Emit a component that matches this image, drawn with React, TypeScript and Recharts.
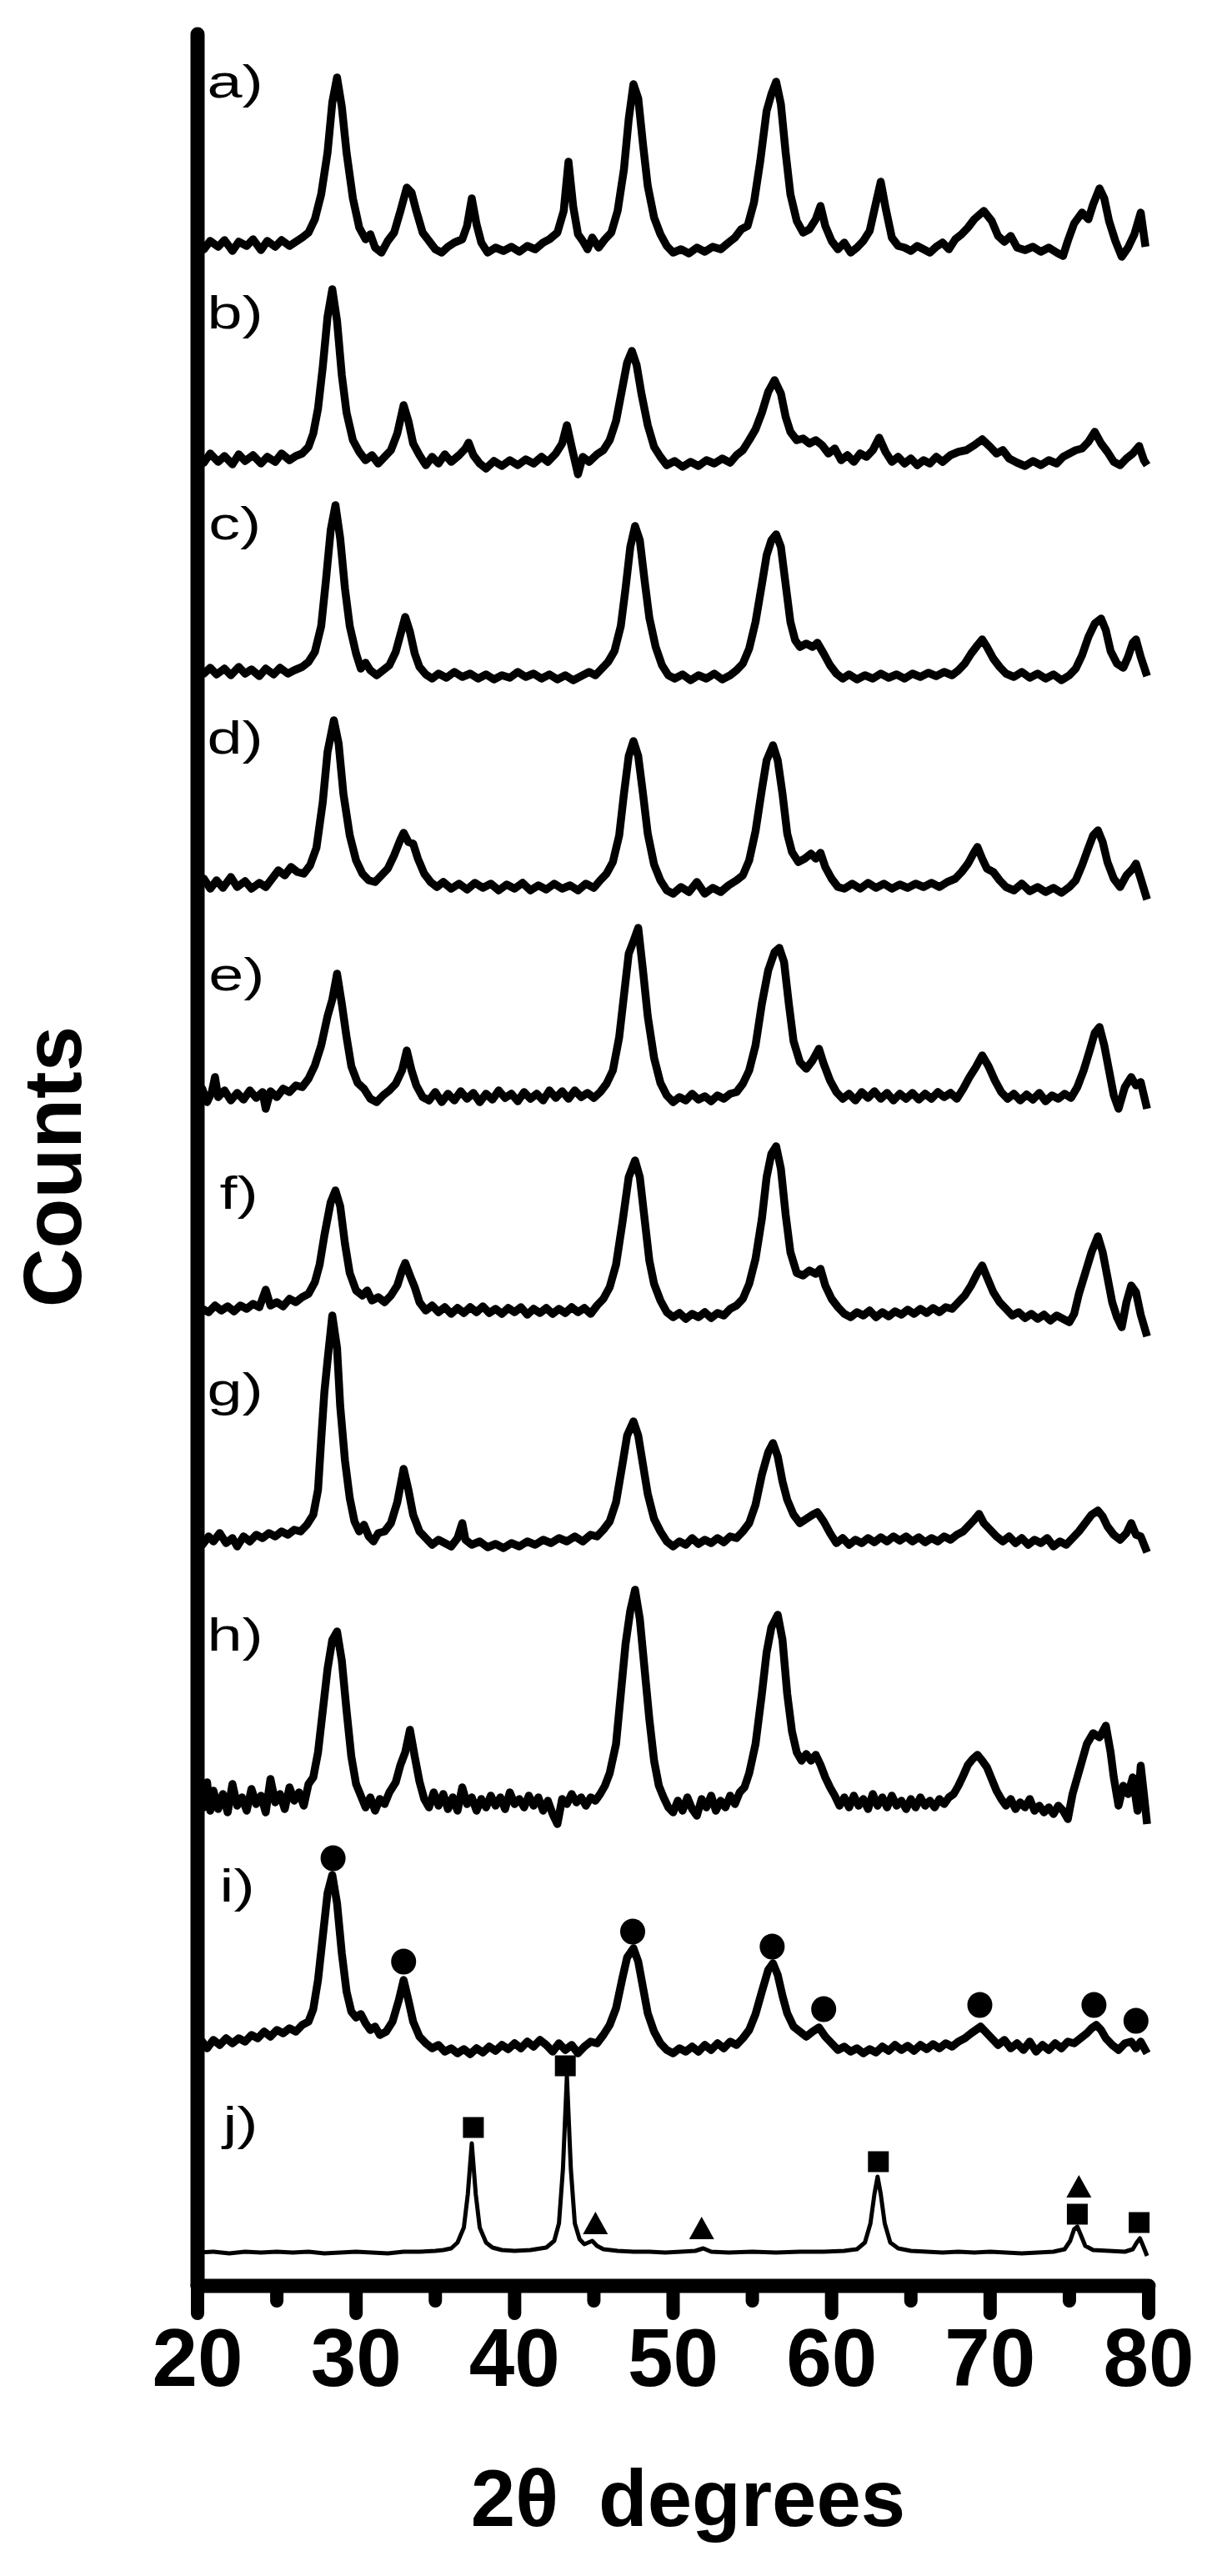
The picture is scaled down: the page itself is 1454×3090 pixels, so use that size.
import { ComposedChart, Line, Scatter, XAxis, YAxis } from 'recharts'

const FONT = '"Liberation Sans", Arial, Helvetica, sans-serif'

// ─── Data ────────────────────────────────────────────────────────────────────

// 2θ ticks every 5°, labelled on the tens
const X_TICKS = [20, 25, 30, 35, 40, 45, 50, 55, 60, 65, 70, 75, 80]

// baseline of each pattern in stacked "counts" (a on top, j at the bottom)
const OFFSETS = [2449, 2192, 1936, 1680, 1428, 1170, 895, 580, 287, 40]

const LABELS = ['a)', 'b)', 'c)', 'd)', 'e)', 'f)', 'g)', 'h)', 'i)', 'j)']
const LABEL_X = [20.6, 20.6, 20.7, 20.6, 20.7, 21.4, 20.6, 20.6, 21.4, 21.6]
const LABEL_H = [176, 156, 159, 158, 126, 122, 161, 182, 174, 136]

// each trace: [2θ, counts above its own baseline]
const TRACE_A: [number, number][] = [
  [20.0, 2], [20.4, -6], [20.8, 4], [21.3, -3], [21.7, 5], [22.2, -8], [22.6, 3], [23.1, -2], [23.5, 6], [24.0, -7],
  [24.4, 4], [24.9, -3], [25.3, 5], [25.8, -2], [26.2, 3], [26.6, 8], [27.0, 14], [27.4, 30], [27.8, 60], [28.2, 110],
  [28.5, 170], [28.8, 200], [29.1, 165], [29.4, 110], [29.8, 55], [30.2, 20], [30.6, 6], [30.9, 12], [31.2, -4], [31.6, -10],
  [32.0, 4], [32.4, 14], [32.8, 40], [33.2, 68], [33.5, 62], [33.8, 40], [34.2, 14], [34.6, 4], [35.0, -6], [35.4, -10],
  [35.8, -3], [36.2, 2], [36.7, 6], [37.0, 22], [37.3, 55], [37.6, 24], [37.9, 2], [38.3, -10], [38.8, -4], [39.3, -8],
  [39.8, -3], [40.3, -9], [40.8, -2], [41.3, -6], [41.8, 2], [42.2, 6], [42.7, 14], [43.1, 40], [43.4, 99], [43.7, 45],
  [44.0, 12], [44.3, 4], [44.6, -6], [44.9, 8], [45.3, -4], [45.7, 6], [46.1, 14], [46.5, 40], [46.9, 90], [47.2, 150],
  [47.5, 192], [47.8, 175], [48.1, 120], [48.4, 70], [48.8, 32], [49.2, 12], [49.6, -2], [50.0, -10], [50.5, -6], [51.0, -11],
  [51.5, -4], [52.0, -9], [52.5, -3], [53.0, -6], [53.5, 2], [53.9, 8], [54.3, 18], [54.7, 22], [55.1, 50], [55.5, 100],
  [55.9, 160], [56.2, 180], [56.5, 195], [56.8, 168], [57.1, 110], [57.4, 60], [57.8, 28], [58.2, 14], [58.6, 18], [59.0, 30],
  [59.3, 46], [59.6, 22], [60.0, 4], [60.4, -6], [60.8, 2], [61.2, -10], [61.6, -4], [62.0, 4], [62.4, 16], [62.8, 50],
  [63.1, 75], [63.4, 44], [63.8, 8], [64.2, -2], [64.6, -4], [65.0, -8], [65.4, -2], [65.8, -6], [66.2, -10], [66.6, -3],
  [67.0, 2], [67.4, -6], [67.8, 6], [68.2, 12], [68.6, 20], [69.0, 30], [69.6, 40], [70.1, 28], [70.5, 10], [70.9, 3],
  [71.3, 10], [71.7, -4], [72.2, -7], [72.7, -3], [73.2, -9], [73.7, -4], [74.2, -10], [74.6, -14], [74.9, 4], [75.3, 25],
  [75.8, 38], [76.2, 30], [76.5, 48], [76.9, 67], [77.2, 55], [77.5, 28], [77.9, 4], [78.3, -15], [78.7, -4], [79.1, 12],
  [79.5, 38], [79.8, -3],
]

const TRACE_B: [number, number][] = [
  [20.0, 0], [20.4, -5], [20.8, 6], [21.3, -4], [21.7, 3], [22.2, -7], [22.6, 5], [23.0, -3], [23.5, 4], [24.0, -6],
  [24.4, 2], [24.9, -4], [25.3, 6], [25.8, -2], [26.2, 3], [26.6, 6], [27.0, 14], [27.3, 30], [27.6, 60], [27.9, 110],
  [28.2, 170], [28.5, 203], [28.8, 165], [29.1, 100], [29.4, 55], [29.8, 22], [30.2, 8], [30.6, -2], [31.0, 4], [31.4, -6],
  [31.8, 2], [32.2, 10], [32.6, 30], [33.0, 64], [33.3, 45], [33.6, 18], [34.0, 4], [34.4, -8], [34.8, 2], [35.2, -6],
  [35.6, 5], [36.0, -4], [36.5, 4], [36.9, 12], [37.1, 19], [37.4, 4], [37.8, -6], [38.2, -12], [38.7, -3], [39.2, -9],
  [39.7, -2], [40.2, -8], [40.7, -1], [41.2, -6], [41.7, 2], [42.1, -4], [42.6, 6], [43.0, 18], [43.3, 40], [43.6, 14],
  [44.0, -19], [44.3, 2], [44.7, -4], [45.2, 5], [45.6, 10], [46.0, 22], [46.4, 45], [46.8, 85], [47.1, 115], [47.4, 129],
  [47.7, 112], [48.0, 78], [48.4, 40], [48.8, 14], [49.2, 2], [49.6, -8], [50.1, -3], [50.6, -10], [51.1, -4], [51.6, -9],
  [52.1, -2], [52.6, -6], [53.1, 0], [53.6, -5], [54.0, 4], [54.4, 10], [54.8, 22], [55.2, 35], [55.6, 55], [56.0, 80],
  [56.4, 94], [56.8, 78], [57.1, 50], [57.4, 32], [57.8, 22], [58.2, 24], [58.6, 18], [59.0, 22], [59.4, 16], [59.8, 6],
  [60.2, 12], [60.6, -2], [61.0, 4], [61.4, -4], [61.8, 6], [62.2, 2], [62.6, 10], [63.0, 25], [63.4, 8], [63.8, -4],
  [64.2, 2], [64.6, -6], [65.0, 0], [65.4, -8], [65.8, -2], [66.2, -6], [66.6, 2], [67.0, -4], [67.5, 4], [68.0, 8],
  [68.5, 10], [69.0, 16], [69.5, 23], [70.0, 14], [70.4, 6], [70.8, 10], [71.2, 0], [71.7, -5], [72.2, -9], [72.7, -3],
  [73.2, -8], [73.7, -2], [74.2, -6], [74.6, 2], [75.0, 6], [75.4, 10], [75.8, 12], [76.2, 20], [76.6, 32], [77.0, 18],
  [77.4, 8], [77.8, -4], [78.2, -8], [78.6, 0], [79.0, 6], [79.4, 15], [79.7, -2], [79.9, -8],
]

const TRACE_C: [number, number][] = [
  [20.0, 6], [20.4, -2], [20.8, 5], [21.2, -3], [21.7, 4], [22.1, -4], [22.6, 6], [23.0, -2], [23.4, 3], [23.9, -5],
  [24.3, 4], [24.8, -3], [25.2, 5], [25.7, -2], [26.1, 2], [26.6, 6], [27.0, 12], [27.4, 24], [27.8, 55], [28.1, 110],
  [28.4, 170], [28.7, 200], [29.0, 160], [29.3, 100], [29.6, 55], [30.0, 22], [30.3, 4], [30.6, 11], [30.9, 2], [31.3, -4],
  [31.7, 2], [32.1, 8], [32.5, 24], [32.8, 45], [33.1, 66], [33.4, 48], [33.7, 22], [34.0, 6], [34.4, -3], [34.8, -8],
  [35.2, -2], [35.7, -7], [36.2, 0], [36.7, -6], [37.2, -2], [37.7, -8], [38.2, -3], [38.7, -9], [39.2, -4], [39.7, -7],
  [40.2, 0], [40.7, -6], [41.2, -2], [41.7, -8], [42.2, -3], [42.7, -9], [43.2, -4], [43.7, -10], [44.2, -5], [44.7, 0],
  [45.1, -4], [45.5, 4], [45.9, 12], [46.3, 25], [46.7, 55], [47.0, 100], [47.3, 150], [47.6, 175], [47.9, 158], [48.2, 110],
  [48.5, 65], [48.9, 30], [49.3, 8], [49.7, -4], [50.1, -8], [50.6, -3], [51.1, -10], [51.6, -4], [52.1, -8], [52.6, -2],
  [53.1, -9], [53.6, -4], [54.0, 2], [54.4, 10], [54.8, 28], [55.2, 60], [55.6, 105], [55.9, 140], [56.2, 158], [56.5, 165],
  [56.8, 150], [57.1, 105], [57.4, 60], [57.7, 38], [58.0, 30], [58.4, 34], [58.8, 30], [59.1, 35], [59.5, 22], [59.9, 8],
  [60.3, -2], [60.7, -8], [61.1, -3], [61.6, -9], [62.1, -4], [62.6, -8], [63.1, -2], [63.6, -7], [64.1, -3], [64.6, -8],
  [65.1, -2], [65.6, -6], [66.1, -1], [66.6, -5], [67.1, 0], [67.6, -4], [68.0, 2], [68.4, 10], [68.8, 22], [69.2, 32],
  [69.5, 39], [69.8, 30], [70.2, 16], [70.6, 6], [71.0, -2], [71.5, -6], [72.0, 0], [72.5, -7], [73.0, -2], [73.5, -8],
  [74.0, -3], [74.5, -10], [75.0, -4], [75.4, 4], [75.8, 20], [76.2, 42], [76.6, 58], [77.0, 64], [77.3, 50], [77.6, 25],
  [78.0, 10], [78.4, 5], [78.7, 18], [79.0, 35], [79.2, 39], [79.5, 18], [79.9, -5],
]

const TRACE_D: [number, number][] = [
  [20.0, -2], [20.4, 8], [20.8, -4], [21.2, 6], [21.6, -3], [22.1, 10], [22.5, -2], [23.0, 5], [23.4, -4], [23.9, 3],
  [24.3, -2], [24.7, 8], [25.1, 18], [25.5, 12], [25.9, 22], [26.3, 16], [26.7, 14], [27.1, 24], [27.5, 45], [27.9, 100],
  [28.2, 160], [28.6, 198], [28.9, 170], [29.2, 110], [29.6, 60], [30.0, 30], [30.4, 14], [30.8, 6], [31.2, 4], [31.6, 12],
  [32.0, 20], [32.4, 36], [32.8, 55], [33.0, 63], [33.3, 52], [33.6, 50], [33.9, 32], [34.3, 14], [34.7, 4], [35.1, -2],
  [35.5, 4], [36.0, -4], [36.5, 2], [37.0, -5], [37.5, 3], [38.0, -3], [38.5, 2], [39.0, -6], [39.5, 1], [40.0, -4],
  [40.5, 3], [41.0, -6], [41.5, 0], [42.0, -5], [42.5, 2], [43.0, -4], [43.5, 0], [44.0, -6], [44.5, 2], [45.0, -3],
  [45.4, 6], [45.8, 14], [46.2, 28], [46.6, 60], [46.9, 110], [47.2, 155], [47.5, 173], [47.8, 155], [48.1, 110], [48.4, 62],
  [48.8, 25], [49.2, 6], [49.6, -6], [50.0, -10], [50.5, -2], [51.0, -8], [51.5, 4], [52.0, -10], [52.5, -3], [53.0, -8],
  [53.5, 0], [54.0, 6], [54.4, 12], [54.8, 30], [55.2, 65], [55.6, 115], [55.9, 150], [56.3, 168], [56.6, 150], [56.9, 110],
  [57.2, 62], [57.5, 40], [57.9, 28], [58.3, 32], [58.7, 38], [59.0, 32], [59.3, 39], [59.6, 22], [60.0, 8], [60.4, -2],
  [60.8, -4], [61.3, 2], [61.8, -4], [62.3, 3], [62.8, -3], [63.3, 2], [63.8, -4], [64.3, 1], [64.8, -3], [65.3, 2],
  [65.8, -2], [66.3, 3], [66.8, -2], [67.3, 4], [67.8, 8], [68.2, 16], [68.6, 26], [69.0, 40], [69.2, 46], [69.5, 32],
  [69.8, 20], [70.2, 16], [70.6, 6], [71.0, -2], [71.5, -6], [72.0, 2], [72.5, -7], [73.0, -2], [73.5, -8], [74.0, -3],
  [74.5, -9], [75.0, -2], [75.4, 6], [75.8, 24], [76.2, 45], [76.5, 60], [76.8, 66], [77.1, 52], [77.4, 28], [77.8, 8],
  [78.2, -2], [78.6, 12], [79.0, 20], [79.2, 26], [79.5, 8], [79.9, -17],
]

const TRACE_E: [number, number][] = [
  [20.0, -4], [20.3, 8], [20.6, -8], [20.9, 4], [21.1, 22], [21.3, -2], [21.7, 6], [22.1, -6], [22.5, 3], [22.9, -5],
  [23.3, 6], [23.7, -3], [24.1, 4], [24.3, -16], [24.6, 5], [25.0, -2], [25.4, 8], [25.8, 4], [26.2, 12], [26.6, 10],
  [27.0, 20], [27.4, 36], [27.8, 60], [28.2, 95], [28.5, 115], [28.8, 146], [29.1, 110], [29.4, 70], [29.7, 35], [30.1, 15],
  [30.5, 8], [30.9, -4], [31.3, -8], [31.7, 0], [32.1, 6], [32.5, 14], [32.9, 30], [33.2, 54], [33.5, 30], [33.8, 12],
  [34.2, -2], [34.6, -6], [35.0, 4], [35.4, -8], [35.8, 2], [36.2, -6], [36.6, 5], [37.0, -4], [37.4, 3], [37.8, -8],
  [38.2, 2], [38.6, -5], [39.0, 6], [39.4, -3], [39.8, 2], [40.2, -7], [40.6, 4], [41.0, -4], [41.4, 2], [41.8, -6],
  [42.2, 6], [42.6, -3], [43.0, 5], [43.4, -4], [43.8, 6], [44.2, -2], [44.6, 3], [45.0, -3], [45.4, 4], [45.8, 14],
  [46.2, 30], [46.6, 70], [46.9, 120], [47.2, 170], [47.5, 185], [47.8, 201], [48.1, 150], [48.4, 95], [48.8, 45], [49.2, 15],
  [49.6, 0], [50.0, -8], [50.4, -2], [50.8, -6], [51.2, 2], [51.6, -5], [52.0, -1], [52.4, -7], [52.8, 0], [53.2, -4],
  [53.6, 2], [54.0, 4], [54.4, 14], [54.8, 30], [55.2, 60], [55.6, 110], [56.0, 150], [56.4, 172], [56.7, 177], [57.0, 160],
  [57.3, 110], [57.6, 65], [58.0, 40], [58.4, 32], [58.8, 42], [59.2, 56], [59.5, 38], [59.9, 18], [60.3, 4], [60.7, -4],
  [61.1, 2], [61.5, -6], [61.9, 4], [62.3, -3], [62.7, 5], [63.1, -4], [63.5, 3], [63.9, -6], [64.3, 2], [64.7, -4],
  [65.1, 3], [65.5, -5], [65.9, 2], [66.3, -4], [66.7, 4], [67.1, -2], [67.5, 3], [67.9, -4], [68.3, 8], [68.7, 22],
  [69.1, 34], [69.5, 48], [69.9, 35], [70.3, 18], [70.7, 4], [71.1, -4], [71.5, 2], [71.9, -6], [72.3, 1], [72.7, -5],
  [73.1, 3], [73.5, -7], [73.9, 0], [74.3, -4], [74.7, 2], [75.1, -3], [75.5, 10], [75.9, 30], [76.3, 55], [76.6, 75],
  [76.9, 82], [77.2, 60], [77.5, 30], [77.8, 0], [78.1, -16], [78.5, 10], [78.9, 22], [79.2, 12], [79.5, 16], [79.9, -16],
]

const TRACE_F: [number, number][] = [
  [20.0, -8], [20.3, 2], [20.7, -2], [21.1, 6], [21.5, 0], [21.9, 5], [22.3, -1], [22.7, 6], [23.1, 2], [23.5, 8],
  [23.9, 4], [24.3, 25], [24.6, 6], [25.0, 10], [25.4, 5], [25.8, 14], [26.2, 10], [26.6, 16], [27.0, 20], [27.4, 34],
  [27.7, 55], [28.0, 90], [28.4, 130], [28.7, 144], [29.0, 125], [29.3, 80], [29.6, 45], [30.0, 24], [30.4, 18], [30.7, 24],
  [31.0, 12], [31.4, 16], [31.8, 10], [32.2, 18], [32.6, 30], [32.9, 48], [33.1, 57], [33.4, 42], [33.7, 28], [34.0, 10],
  [34.4, 0], [34.8, 6], [35.2, -2], [35.6, 4], [36.0, -4], [36.4, 3], [36.8, -3], [37.2, 4], [37.6, -2], [38.0, 5],
  [38.4, -3], [38.8, 2], [39.2, -4], [39.6, 3], [40.0, -2], [40.4, 4], [40.8, -5], [41.2, 2], [41.6, -3], [42.0, 3],
  [42.4, -4], [42.8, 2], [43.2, -3], [43.6, 4], [44.0, -2], [44.4, 3], [44.8, -4], [45.2, 6], [45.6, 14], [46.0, 28],
  [46.4, 55], [46.8, 105], [47.2, 160], [47.6, 180], [47.9, 160], [48.2, 110], [48.5, 60], [48.8, 32], [49.2, 12], [49.6, -2],
  [50.0, -8], [50.4, -3], [50.8, -10], [51.2, -4], [51.6, -8], [52.0, -2], [52.4, -9], [52.8, -3], [53.2, -6], [53.6, 2],
  [54.0, 6], [54.4, 14], [54.8, 32], [55.2, 62], [55.6, 110], [55.9, 160], [56.2, 188], [56.5, 197], [56.8, 170], [57.1, 115],
  [57.4, 70], [57.8, 45], [58.2, 42], [58.6, 48], [59.0, 44], [59.3, 50], [59.6, 30], [60.0, 14], [60.4, 4], [60.8, -4],
  [61.2, -8], [61.6, -2], [62.0, -6], [62.4, 0], [62.8, -8], [63.2, -2], [63.6, -7], [64.0, -1], [64.4, -5], [64.8, 1],
  [65.2, -4], [65.6, 2], [66.0, -3], [66.4, 3], [66.8, -2], [67.2, 4], [67.6, 2], [68.0, 10], [68.4, 18], [68.8, 30],
  [69.2, 45], [69.5, 54], [69.8, 40], [70.2, 22], [70.6, 10], [71.0, 2], [71.4, -6], [71.8, -2], [72.2, -9], [72.6, -4],
  [73.0, -10], [73.4, -5], [73.8, -12], [74.2, -6], [74.6, -10], [75.0, -14], [75.3, -4], [75.6, 20], [76.0, 45], [76.4, 70],
  [76.8, 89], [77.1, 70], [77.4, 40], [77.7, 10], [78.0, -8], [78.3, -20], [78.6, 10], [78.9, 30], [79.2, 22], [79.5, -5],
  [79.9, -31],
]

const TRACE_G: [number, number][] = [
  [20.0, 2], [20.3, -6], [20.7, 4], [21.0, -2], [21.4, 8], [21.8, -4], [22.2, 2], [22.5, -8], [22.9, 4], [23.3, -2],
  [23.7, 6], [24.1, 2], [24.5, 8], [24.9, 4], [25.3, 10], [25.7, 6], [26.1, 12], [26.5, 10], [26.9, 18], [27.3, 30],
  [27.6, 60], [27.8, 120], [28.0, 177], [28.2, 215], [28.5, 269], [28.8, 230], [29.0, 160], [29.3, 95], [29.6, 50], [29.9, 22],
  [30.2, 10], [30.5, 18], [30.8, 4], [31.1, -2], [31.4, 8], [31.8, 10], [32.2, 20], [32.6, 45], [33.0, 85], [33.3, 60],
  [33.6, 30], [34.0, 10], [34.4, 2], [34.8, -6], [35.2, 0], [35.6, -4], [36.0, -8], [36.4, 2], [36.7, 20], [36.9, 0],
  [37.3, -6], [37.8, -2], [38.3, -9], [38.8, -5], [39.3, -10], [39.8, -4], [40.3, -8], [40.8, -2], [41.3, -6], [41.8, 0],
  [42.3, -4], [42.8, 2], [43.3, -2], [43.8, 4], [44.3, -2], [44.8, 6], [45.2, 4], [45.6, 12], [46.0, 22], [46.4, 45],
  [46.8, 90], [47.1, 125], [47.5, 142], [47.8, 125], [48.1, 90], [48.4, 55], [48.8, 25], [49.2, 10], [49.6, -2], [50.0, -8],
  [50.4, -2], [50.8, -6], [51.2, 2], [51.6, -5], [52.0, 0], [52.4, -4], [52.8, 2], [53.2, -3], [53.6, 4], [54.0, 2],
  [54.4, 10], [54.8, 20], [55.2, 42], [55.6, 78], [56.0, 105], [56.3, 116], [56.6, 100], [56.9, 70], [57.2, 48], [57.6, 30],
  [58.0, 20], [58.4, 25], [58.8, 30], [59.1, 33], [59.5, 22], [59.9, 8], [60.3, -4], [60.7, 2], [61.1, -6], [61.5, 0],
  [61.9, -4], [62.3, 2], [62.7, -3], [63.1, 3], [63.5, -2], [63.9, 4], [64.3, -1], [64.7, 4], [65.1, -2], [65.5, 3],
  [65.9, -3], [66.3, 2], [66.7, -2], [67.1, 4], [67.5, 0], [67.9, 6], [68.3, 10], [68.7, 18], [69.0, 24], [69.3, 31],
  [69.6, 20], [70.0, 12], [70.4, 4], [70.8, -2], [71.2, 4], [71.6, -4], [72.0, 2], [72.4, -6], [72.8, 0], [73.2, -4],
  [73.6, 2], [74.0, -8], [74.4, -2], [74.8, -6], [75.2, 2], [75.6, 10], [76.0, 20], [76.4, 30], [76.8, 35], [77.1, 28],
  [77.4, 16], [77.8, 6], [78.2, 0], [78.6, 8], [78.9, 20], [79.2, 6], [79.5, 4], [79.9, -15],
]

const TRACE_H: [number, number][] = [
  [20.0, -14], [20.2, 8], [20.4, -6], [20.6, 24], [20.8, -10], [21.0, 14], [21.3, -8], [21.6, 10], [21.9, -12], [22.2, 22],
  [22.5, -4], [22.8, 6], [23.1, -10], [23.4, 16], [23.7, -2], [24.0, 8], [24.3, -12], [24.6, 28], [24.9, 0], [25.2, 10],
  [25.5, -8], [25.8, 18], [26.1, 2], [26.4, 12], [26.7, -4], [27.0, 22], [27.3, 30], [27.6, 60], [27.9, 110], [28.2, 160],
  [28.5, 195], [28.8, 205], [29.1, 170], [29.4, 110], [29.7, 55], [30.0, 22], [30.3, 8], [30.6, -6], [30.9, 6], [31.2, -10],
  [31.5, 4], [31.8, -2], [32.1, 12], [32.5, 24], [32.8, 45], [33.1, 60], [33.4, 87], [33.7, 55], [34.0, 25], [34.3, 4],
  [34.6, -6], [34.9, 12], [35.2, -4], [35.5, 10], [35.8, -8], [36.1, 6], [36.4, -10], [36.7, 18], [37.0, -2], [37.3, 6],
  [37.6, -10], [37.9, 4], [38.2, -6], [38.5, 8], [38.8, -4], [39.1, 6], [39.4, -8], [39.7, 12], [40.0, -2], [40.3, 4],
  [40.6, -6], [40.9, 8], [41.2, -4], [41.5, 6], [41.8, -10], [42.1, 2], [42.4, -14], [42.7, -26], [43.0, 4], [43.3, -2],
  [43.6, 10], [43.9, 0], [44.2, 6], [44.5, -4], [44.8, 6], [45.1, 2], [45.4, 10], [45.7, 20], [46.0, 35], [46.4, 70],
  [46.7, 130], [47.0, 190], [47.3, 230], [47.6, 255], [47.9, 220], [48.2, 160], [48.5, 100], [48.8, 50], [49.1, 20], [49.4, 6],
  [49.7, -6], [50.0, -12], [50.3, 2], [50.6, -10], [50.9, 6], [51.2, -8], [51.5, -16], [51.8, 4], [52.1, -6], [52.4, 8],
  [52.7, -10], [53.0, 2], [53.3, -6], [53.6, 8], [53.9, -2], [54.2, 12], [54.5, 18], [54.8, 35], [55.2, 70], [55.6, 130],
  [55.9, 180], [56.2, 210], [56.6, 225], [56.9, 195], [57.2, 130], [57.5, 85], [57.8, 60], [58.1, 50], [58.4, 58], [58.7, 50],
  [59.0, 57], [59.3, 45], [59.6, 30], [59.9, 18], [60.2, 8], [60.5, -4], [60.8, 6], [61.1, -6], [61.4, 8], [61.7, -4],
  [62.0, 4], [62.3, -8], [62.6, 10], [62.9, -4], [63.2, 6], [63.5, -6], [63.8, 8], [64.1, -4], [64.4, 2], [64.7, -8],
  [65.0, 4], [65.3, -6], [65.6, 6], [65.9, -4], [66.2, 2], [66.5, -6], [66.8, 4], [67.1, -2], [67.4, 6], [67.7, 10],
  [68.0, 20], [68.3, 32], [68.6, 45], [68.9, 52], [69.2, 57], [69.5, 50], [69.8, 42], [70.1, 28], [70.4, 14], [70.7, 4],
  [71.0, -4], [71.3, 4], [71.6, -8], [71.9, 0], [72.2, -6], [72.5, 4], [72.8, -10], [73.1, -4], [73.4, -12], [73.7, -6],
  [74.0, -14], [74.3, -4], [74.6, -10], [74.9, -20], [75.2, 10], [75.5, 30], [75.8, 50], [76.1, 70], [76.5, 83], [76.9, 78],
  [77.3, 92], [77.6, 60], [77.8, 30], [78.1, -4], [78.4, 20], [78.7, 10], [79.0, 30], [79.3, -10], [79.5, 44], [79.7, 10],
  [79.9, -26],
]

const TRACE_I: [number, number][] = [
  [20.0, -4], [20.3, 6], [20.6, -2], [21.0, 8], [21.4, 2], [21.8, 10], [22.2, 4], [22.6, 10], [23.0, 6], [23.4, 14],
  [23.8, 10], [24.2, 18], [24.6, 12], [25.0, 20], [25.4, 16], [25.8, 22], [26.2, 18], [26.6, 26], [27.0, 30], [27.3, 45],
  [27.6, 80], [27.9, 132], [28.2, 184], [28.5, 206], [28.8, 172], [29.1, 112], [29.4, 66], [29.7, 42], [30.0, 35], [30.3, 39],
  [30.6, 28], [30.9, 20], [31.2, 24], [31.5, 14], [31.9, 18], [32.3, 30], [32.7, 56], [33.0, 80], [33.3, 56], [33.6, 30],
  [34.0, 12], [34.4, 4], [34.8, -2], [35.2, 2], [35.6, -6], [36.0, -2], [36.4, -8], [36.8, -3], [37.2, -9], [37.6, -2],
  [38.0, -7], [38.4, 0], [38.8, -5], [39.2, 2], [39.6, -3], [40.0, 4], [40.4, -2], [40.8, 6], [41.2, 0], [41.6, 8],
  [42.0, 2], [42.4, -6], [42.8, 4], [43.2, -4], [43.6, 2], [44.0, -8], [44.4, 0], [44.8, 6], [45.2, 4], [45.6, 14],
  [46.0, 26], [46.4, 46], [46.8, 82], [47.1, 107], [47.5, 118], [47.8, 102], [48.1, 71], [48.4, 40], [48.8, 18], [49.2, 4],
  [49.6, -4], [50.0, -8], [50.4, -2], [50.8, -6], [51.2, 0], [51.6, -6], [52.0, 2], [52.4, -4], [52.8, 4], [53.2, -2],
  [53.6, 6], [54.0, 2], [54.4, 10], [54.8, 20], [55.2, 39], [55.6, 66], [56.0, 92], [56.3, 100], [56.6, 86], [56.9, 61],
  [57.2, 40], [57.6, 24], [58.0, 18], [58.4, 12], [58.8, 18], [59.2, 23], [59.6, 12], [60.0, 4], [60.4, -4], [60.8, 0],
  [61.2, -6], [61.6, -2], [62.0, -8], [62.4, -3], [62.8, -7], [63.2, 0], [63.6, -5], [64.0, 2], [64.4, -4], [64.8, 1],
  [65.2, -5], [65.6, 2], [66.0, -3], [66.4, 3], [66.8, -2], [67.2, 4], [67.6, 0], [68.0, 6], [68.4, 10], [68.8, 16],
  [69.1, 20], [69.4, 24], [69.7, 18], [70.1, 10], [70.5, 2], [70.9, 8], [71.3, -2], [71.7, 4], [72.1, -4], [72.5, 6],
  [72.9, -6], [73.3, 2], [73.7, -4], [74.1, 4], [74.5, -2], [74.9, 6], [75.3, 4], [75.7, 10], [76.1, 16], [76.4, 22],
  [76.7, 26], [77.0, 20], [77.3, 10], [77.7, 2], [78.1, -4], [78.5, 4], [78.9, 6], [79.2, -2], [79.5, 6], [79.9, -8],
]

const TRACE_J: [number, number][] = [
  [20.0, 0], [21.0, 1], [22.0, -1], [23.0, 1], [24.0, 0], [25.0, 1], [26.0, 0], [27.0, 1], [28.0, -1], [29.0, 0],
  [30.0, 1], [31.0, 0], [32.0, -1], [33.0, 1], [34.0, 1], [35.0, 2], [35.5, 3], [36.0, 5], [36.4, 12], [36.8, 30],
  [37.05, 70], [37.3, 131], [37.55, 70], [37.8, 30], [38.2, 12], [38.6, 6], [39.2, 3], [40.0, 2], [41.0, 3], [42.0, 6],
  [42.5, 14], [42.8, 35], [43.05, 100], [43.3, 212], [43.55, 100], [43.8, 35], [44.1, 16], [44.4, 10], [44.65, 12], [44.9, 14],
  [45.2, 8], [45.6, 4], [46.5, 2], [47.5, 1], [48.5, 1], [49.5, 0], [50.5, 1], [51.4, 2], [51.9, 5], [52.4, 1],
  [53.5, 0], [55.0, 1], [56.5, 0], [58.0, 1], [59.5, 1], [60.8, 2], [61.6, 4], [62.1, 12], [62.45, 35], [62.7, 70],
  [62.9, 91], [63.1, 70], [63.35, 35], [63.7, 12], [64.2, 5], [65.0, 2], [66.0, 1], [67.0, 0], [68.0, 1], [69.0, 0],
  [70.0, 1], [71.0, 0], [72.0, -1], [73.0, 0], [74.0, 1], [74.7, 4], [75.05, 14], [75.3, 28], [75.5, 31], [75.7, 22],
  [76.0, 8], [76.5, 3], [77.5, 2], [78.5, 1], [79.0, 4], [79.25, 12], [79.45, 17], [79.65, 8], [79.9, -4],
]

const TRACES = [TRACE_A, TRACE_B, TRACE_C, TRACE_D, TRACE_E, TRACE_F, TRACE_G, TRACE_H, TRACE_I, TRACE_J]

// phase markers: ● on pattern i, ■ and ▲ on pattern j (height above that baseline)
const CIRCLE_X = [28.55, 33.0, 47.45, 56.25, 59.5, 69.35, 76.55, 79.2]
const CIRCLE_H = [226, 102, 138, 120, 45, 50, 50, 31]
const SQUARE_X = [37.4, 43.2, 62.95, 75.5, 79.4]
const SQUARE_H = [150, 224, 109, 46, 36]
const TRIANGLE_X = [45.1, 51.8, 75.6]
const TRIANGLE_H = [35, 29, 79]

const I_ROW = 8
const J_ROW = 9

const series = TRACES.map((pts, k) => pts.map(([x, h]) => ({ x, y: OFFSETS[k] + h })))
const labelData = LABELS.map((text, k) => ({ x: LABEL_X[k], y: OFFSETS[k] + LABEL_H[k], text }))
const circles = CIRCLE_X.map((x, k) => ({ x, y: OFFSETS[I_ROW] + CIRCLE_H[k] }))
const squares = SQUARE_X.map((x, k) => ({ x, y: OFFSETS[J_ROW] + SQUARE_H[k] }))
const triangles = TRIANGLE_X.map((x, k) => ({ x, y: OFFSETS[J_ROW] + TRIANGLE_H[k] }))

// ─── Shapes ──────────────────────────────────────────────────────────────────

const CircleMark = ({ cx, cy }: any) => <ellipse cx={cx} cy={cy} rx={15} ry={15.5} fill="#000" />
const SquareMark = ({ cx, cy }: any) => (
  <rect x={cx - 12.5} y={cy - 12.5} width={25} height={25} fill="#000" />
)
const TriangleMark = ({ cx, cy }: any) => (
  <polygon points={`${cx - 15},${cy + 13} ${cx + 15},${cy + 13} ${cx},${cy - 14}`} fill="#000" />
)
const TraceLabel = ({ cx, cy, payload }: any) => (
  <text transform={`translate(${cx},${cy}) scale(1.35,1)`} fontSize={56} fontFamily={FONT} fill="#000">
    {payload.text}
  </text>
)

function XTick({ x, y, payload }: any) {
  const major = payload.value % 10 === 0
  return (
    <g>
      <line x1={x} x2={x} y1={y} y2={y + (major ? 33 : 18)} stroke="#000" strokeWidth={16} strokeLinecap="round" />
      {major && (
        <text x={x} y={y + 120} textAnchor="middle" fontSize={98} fontWeight="bold" fontFamily={FONT} fill="#000">
          {payload.value}
        </text>
      )}
    </g>
  )
}

function XTitle(props: any) {
  const vb = props.viewBox ?? { x: 229, y: 2734, width: 1141, height: 100 }
  return (
    <text x={vb.x + vb.width / 2 + 18} y={vb.y + vb.height + 188} textAnchor="middle"
      fontSize={96} fontWeight="bold" fontFamily={FONT} fill="#000">
      {'2θ\u2002degrees'}
    </text>
  )
}

function YTitle(props: any) {
  const vb = props.viewBox ?? { x: 169, y: 33, width: 60, height: 2701 }
  const cx = vb.x + vb.width - 140
  const cy = vb.y + vb.height / 2 + 8
  return (
    <text x={cx} y={cy} transform={`rotate(-90, ${cx}, ${cy})`} textAnchor="middle"
      fontSize={98} fontWeight="bold" fontFamily={FONT} fill="#000">
      Counts
    </text>
  )
}

// ─── Chart ───────────────────────────────────────────────────────────────────

export default function App() {
  return (
    <ComposedChart width={1446} height={3082} margin={{ top: 33, right: 76, bottom: 248, left: 169 }}>
      <XAxis
        dataKey="x"
        type="number"
        domain={[20, 80]}
        ticks={X_TICKS}
        interval={0}
        tickSize={0}
        tickMargin={0}
        tickLine={false}
        tick={<XTick />}
        height={100}
        axisLine={{ stroke: '#000', strokeWidth: 17, strokeLinecap: 'round' }}
        label={XTitle}
      />
      <YAxis
        dataKey="y"
        type="number"
        domain={[0, 2701]}
        width={60}
        tick={false}
        tickLine={false}
        axisLine={{ stroke: '#000', strokeWidth: 17, strokeLinecap: 'round' }}
        label={YTitle}
      />
      {series.map((d, k) => (
        <Line
          key={LABELS[k]}
          data={d}
          dataKey="y"
          type="linear"
          stroke="#000"
          strokeWidth={k === J_ROW ? 5 : 9.5}
          strokeLinejoin="round"
          dot={false}
          activeDot={false}
          isAnimationActive={false}
        />
      ))}
      <Scatter data={circles} dataKey="y" shape={CircleMark} isAnimationActive={false} />
      <Scatter data={squares} dataKey="y" shape={SquareMark} isAnimationActive={false} />
      <Scatter data={triangles} dataKey="y" shape={TriangleMark} isAnimationActive={false} />
      <Scatter data={labelData} dataKey="y" shape={TraceLabel} isAnimationActive={false} />
    </ComposedChart>
  )
}
